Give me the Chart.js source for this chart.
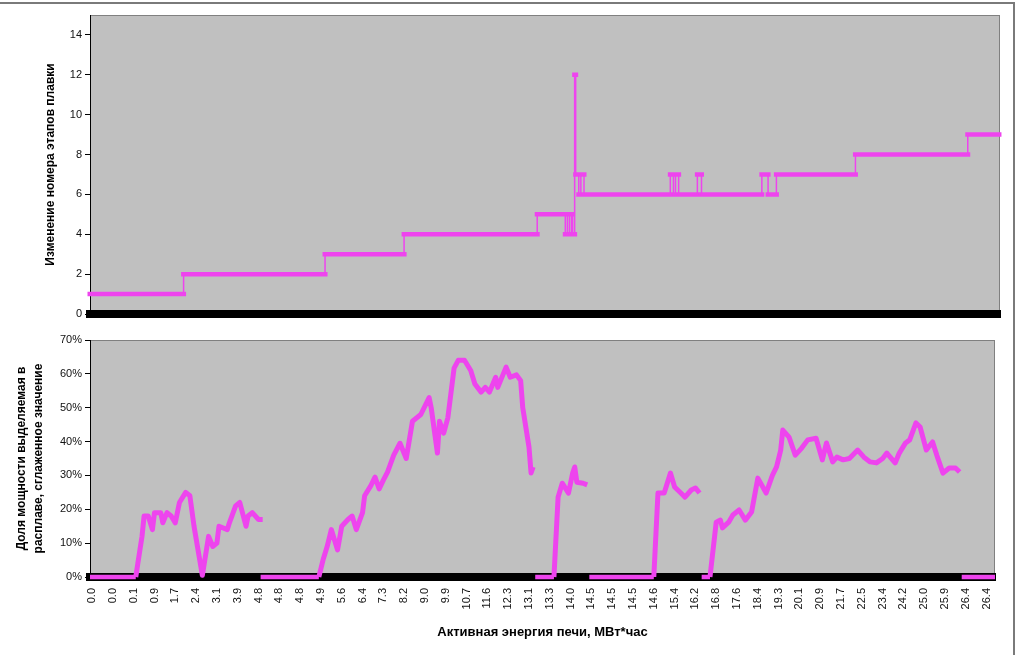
<!DOCTYPE html>
<html lang="ru">
<head>
<meta charset="utf-8">
<title>Этапы плавки и доля мощности</title>
<script src="https://cdn.jsdelivr.net/npm/chart.js@4.4.1/dist/chart.umd.min.js"></script>
<style>
  html, body { margin: 0; padding: 0; background: #fff; }
  #wrap { position: relative; width: 1024px; height: 655px; overflow: hidden; }
  #frame { position: absolute; left: 0; top: 2px; width: 1013px; height: 700px;
           border-top: 2px solid #7a7a7a; border-right: 2px solid #7a7a7a; }
  #topChart { position: absolute; left: 0; top: 0; }
  #bottomChart { position: absolute; left: 0; top: 325px; }
</style>
</head>
<body>
<div id="wrap">
  <div id="frame"></div>
  <canvas id="topChart" width="1010" height="325"></canvas>
  <canvas id="bottomChart" width="1010" height="330"></canvas>
</div>
<script>
// x axis: sample number, a label every 10 samples
const energyLabels = ["0.0", "0.0", "0.1", "0.9", "1.7", "2.4", "3.1", "3.9", "4.8", "4.8", "4.8",
  "4.9", "5.6", "6.4", "7.3", "8.2", "9.0", "9.9", "10.7", "11.6", "12.3", "13.1", "13.3", "14.0",
  "14.5", "14.5", "14.5", "14.6", "15.4", "16.2", "16.8", "17.6", "18.4", "19.3", "20.1", "20.9",
  "21.7", "22.5", "23.4", "24.2", "25.0", "25.9", "26.4", "26.4"];
const labelStep = 10;

// top panel: stage number, value holds until the next change
const stageX = [-1, 44, 112, 150, 214, 227.5, 228.5, 229.5, 230.5, 231, 232, 232.5, 234, 235, 236.5,
  278, 279.5, 280.5, 282, 291, 293, 322, 325, 329, 367, 421, 436];
const stageY = [1, 2, 3, 4, 5, 4, 5, 4, 5, 4, 12, 7, 6, 7, 6,
  7, 6, 7, 6, 7, 6, 7, 6, 7, 8, 9, 9];
const stageTicks = [0, 2, 4, 6, 8, 10, 12, 14];

// bottom panel: smoothed share of power (%), null = break in the line
const shareX = [21, 22, 24, 25, 27, 29, 30, 33, 34, 36, 38, 40, 42, 45, 47, 49, 53, 56, 58, 60, 61,
  65, 66, 69, 71, 74, 75, 77, 80, 82, 83,
  109, 111, 113, 115, 118, 120, 123, 125, 127, 130, 131, 134, 136, 138, 140, 142, 145, 148, 151,
  154, 158, 162, 163, 166, 167, 169, 171, 174, 176, 179, 182, 184, 187, 189, 191, 194, 195, 199,
  201, 204, 206, 207, 210, 211, 212, 213,
  222, 224, 226, 229, 231, 232, 233, 236, 238, 239,
  270, 272, 275, 278, 280, 283, 285, 288, 290, 292, 293,
  297, 300, 302, 303, 306, 308, 311, 314, 317, 320, 324, 327, 329, 331, 332, 335, 338, 341, 344,
  348, 351, 353, 356, 358, 361, 364, 368, 371, 374, 377, 380, 382, 386, 388, 391, 393, 396, 398,
  401, 404, 406, 409, 412, 415, 417];
const shareY = [0, 4, 12, 18, 18, 14, 19, 19, 16, 19, 18, 16, 22, 25, 24, 15, 0.5, 12, 9, 10, 15,
  14, 16, 21, 22, 15, 18, 19, 17, 17, null,
  0, 5, 9, 14, 8, 15, 17, 18, 14, 19, 24, 27, 29.5, 26, 28.6, 31, 36, 39.5, 35,
  46, 48, 53, 50, 36.6, 46, 42.5, 47, 61.7, 64, 64, 61, 57, 54.6, 56, 54.6, 59, 56, 62,
  59, 59.7, 58, 50, 38.4, 30.7, 32.5, null,
  0, 23.6, 27.7, 24.8, 30.7, 32.5, 28, 27.7, 27.2, null,
  0, 24.8, 24.8, 30.7, 26.6, 24.8, 23.6, 25.7, 26.3, 24.8, null,
  0, 16.2, 16.8, 14.5, 16.2, 18.3, 19.8, 16.8, 19.2, 29.2, 24.8, 30, 32.5, 37.5, 43.4, 41.3, 36, 38, 40.5,
  41, 34.6, 39.6, 34, 35.4, 34.6, 35, 37.5, 35.4, 34, 33.7, 35, 36.6, 33.7, 36.6, 39.6, 40.5, 45.5, 44.3,
  37.5, 39.9, 36, 30.7, 32.2, 32.2, 31];

// periods when the share is zero
const offStart = [-1, 81, 213, 239, 293, 418];
const offEnd = [21, 109, 222, 270, 297, 434];

const PINK = "#ee44ee";
const tickFont = { family: "'Liberation Sans', Arial, sans-serif", size: 11 };
const titleFont = { family: "'Liberation Sans', Arial, sans-serif", size: 12, weight: "bold" };

const plotBackground = {
  id: "plotBackground",
  beforeDraw(chart) {
    const { ctx, chartArea: a } = chart;
    ctx.save();
    ctx.fillStyle = "#c0c0c0";
    ctx.fillRect(a.left, a.top, a.right - a.left, a.bottom - a.top);
    ctx.strokeStyle = "#808080";
    ctx.lineWidth = 1;
    ctx.strokeRect(a.left + 0.5, a.top + 0.5, a.right - a.left - 1, a.bottom - a.top);
    ctx.restore();
  }
};

// thick horizontal bars of the stage line (Excel dash markers run together)
const stageBars = [];
for (let i = 0; i < stageX.length - 1; i++) {
  stageBars.push({ x: stageX[i] - 1.2, y: stageY[i] });
  stageBars.push({ x: stageX[i + 1] + 1.2, y: stageY[i] });
  stageBars.push({ x: stageX[i + 1], y: null });
}

const offPoints = [];
offStart.forEach((s, i) => {
  offPoints.push({ x: s, y: 0 }, { x: offEnd[i], y: 0 }, { x: offEnd[i], y: null });
});

new Chart(document.getElementById("topChart"), {
  type: "line",
  data: {
    datasets: [
      {
        data: stageX.map((x, i) => ({ x, y: stageY[i] })),
        borderColor: PINK,
        borderWidth: 1.5,
        stepped: true,
        pointRadius: 0,
        clip: false
      },
      {
        data: stageBars,
        borderColor: PINK,
        borderWidth: 4.5,
        borderCapStyle: "butt",
        pointRadius: 0,
        spanGaps: false,
        clip: false
      }
    ]
  },
  options: {
    responsive: false,
    animation: false,
    layout: { padding: { top: 15, right: 10, left: 0, bottom: 0 } },
    plugins: { legend: { display: false }, tooltip: { enabled: false } },
    scales: {
      x: {
        type: "linear",
        min: -1,
        max: 436.5,
        afterFit: s => { s.height = 11; },
        ticks: { display: false },
        grid: { display: false },
        border: { display: true, color: "#000", width: 8 }
      },
      y: {
        min: 0,
        max: 15,
        afterBuildTicks: s => { s.ticks = stageTicks.map(v => ({ value: v })); },
        afterFit: s => { s.width = 90; },
        grid: { drawOnChartArea: false, tickLength: 5, color: "#000" },
        border: { color: "#000", width: 1 },
        ticks: { font: tickFont, color: "#111", padding: 3 },
        title: {
          display: true,
          text: "Изменение номера этапов плавки",
          font: titleFont,
          color: "#000",
          padding: { top: 43, bottom: 0 }
        }
      }
    }
  },
  plugins: [plotBackground]
});

new Chart(document.getElementById("bottomChart"), {
  type: "line",
  data: {
    datasets: [
      {
        data: offPoints,
        borderColor: PINK,
        borderWidth: 4.5,
        borderCapStyle: "butt",
        pointRadius: 0,
        spanGaps: false,
        clip: false
      },
      {
        data: shareX.map((x, i) => ({ x, y: shareY[i] })),
        borderColor: PINK,
        borderWidth: 5,
        borderJoinStyle: "round",
        pointRadius: 0,
        spanGaps: false,
        clip: false
      }
    ]
  },
  options: {
    responsive: false,
    animation: false,
    layout: { padding: { top: 15, right: 15, left: 0, bottom: 0 } },
    plugins: { legend: { display: false }, tooltip: { enabled: false } },
    scales: {
      x: {
        type: "linear",
        min: -1,
        max: 434,
        afterBuildTicks: s => { s.ticks = energyLabels.map((_, i) => ({ value: i * labelStep })); },
        afterFit: s => { s.height = 78; },
        grid: { display: false },
        border: { display: true, color: "#000", width: 8 },
        ticks: {
          autoSkip: false,
          minRotation: 90,
          maxRotation: 90,
          font: tickFont,
          color: "#111",
          callback: (v, i) => energyLabels[i]
        },
        title: {
          display: true,
          text: "Активная энергия печи, МВт*час",
          font: { family: titleFont.family, size: 13, weight: "bold" },
          color: "#000",
          padding: { top: 0, bottom: 15 }
        }
      },
      y: {
        min: 0,
        max: 70,
        ticks: { stepSize: 10, font: tickFont, color: "#111", padding: 3, callback: v => v + "%" },
        afterFit: s => { s.width = 90; },
        grid: { drawOnChartArea: false, tickLength: 5, color: "#000" },
        border: { color: "#000", width: 1 },
        title: {
          display: true,
          text: ["Доля мощности выделяемая в", "расплаве, сглаженное значение"],
          font: { family: titleFont.family, size: 12, weight: "bold", lineHeight: 1.35 },
          color: "#000",
          padding: { top: 14, bottom: 0 }
        }
      }
    }
  },
  plugins: [plotBackground]
});
</script>
</body>
</html>
